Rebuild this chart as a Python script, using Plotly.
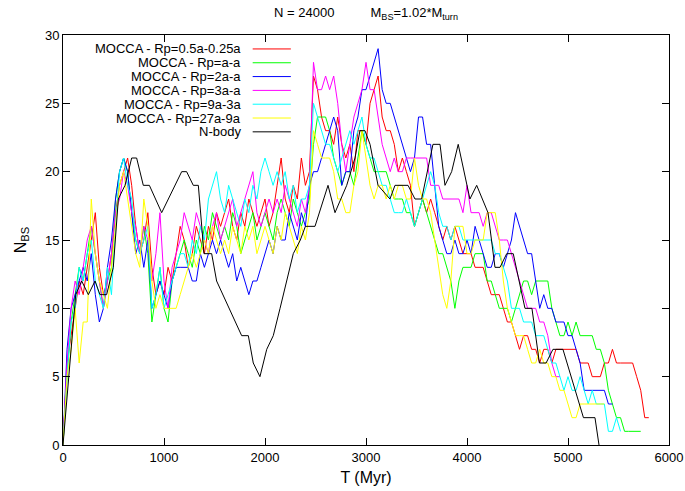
import numpy as np
import plotly.graph_objects as go

# MOCCA snapshots are written every DT Myr
DT = 40

mocca_names = [
    "MOCCA - Rp=0.5a-0.25a",
    "MOCCA - Rp=a-a",
    "MOCCA - Rp=2a-a",
    "MOCCA - Rp=3a-a",
    "MOCCA - Rp=9a-3a",
    "MOCCA - Rp=27a-9a",
]
mocca_colors = ["#ff0000", "#00ff00", "#0000ff", "#ff00ff", "#00ffff", "#ffff00"]

nbs_rp_05a_025a = [
    0, 6, 8, 10, 12, 11, 13, 15, 17, 13,
    11, 12, 14, 17, 19, 20, 21, 19, 16, 14,
    15, 17, 13, 11, 12, 11, 13, 12, 14, 16,
    15, 13, 14, 16, 15, 14, 16, 15, 17, 16,
    17, 18, 16, 15, 17, 16, 18, 17, 16, 17,
    18, 16, 17, 19, 21, 18, 17, 19, 18, 21,
    19, 20, 27, 26, 24, 23, 23, 22, 24, 22,
    21, 22, 20, 23, 23, 22, 25, 26, 27, 24,
    23, 23, 22, 20, 21, 20, 19, 16, 17, 18,
    17, 18, 17, 16, 15, 16, 15, 16, 15, 14,
    14, 14, 13, 13, 13, 12, 11, 11, 11, 10,
    9, 9, 8, 7, 8, 8, 7, 7, 6, 7,
    7, 6, 7, 7, 7, 7, 7, 7, 6, 6,
    6, 5, 5, 5, 6, 6, 7, 6, 6, 6,
    6, 6, 5, 4, 2, 2,
]
nbs_rp_a_a = [
    0, 5, 9, 11, 13, 12, 14, 16, 14, 12,
    10, 12, 13, 18, 20, 21, 20, 17, 15, 14,
    16, 14, 9, 11, 13, 10, 9, 12, 13, 14,
    15, 14, 13, 15, 14, 16, 15, 17, 16, 15,
    16, 15, 17, 16, 14, 15, 16, 17, 15, 16,
    17, 16, 15, 17, 18, 17, 16, 18, 17, 16,
    17, 18, 22, 24, 24, 24, 23, 21, 20, 19,
    20, 20, 19, 21, 23, 22, 21, 20, 20, 20,
    20, 19, 18, 18, 18, 17, 17, 16, 17, 18,
    17, 16, 15, 14, 14, 13, 12, 10, 12, 13,
    13, 13, 14, 14, 14, 12, 12, 11, 10, 10,
    10, 9, 10, 11, 12, 12, 11, 12, 12, 12,
    12, 10, 9, 8, 8, 9, 8, 9, 8, 8,
    8, 8, 7, 7, 6, 4, 3, 2, 2, 1,
    1, 1, 1, 1,
]
nbs_rp_2a_a = [
    0, 7, 10, 11, 12, 13, 12, 14, 11, 9,
    10, 13, 15, 18, 20, 21, 20, 17, 14, 15,
    13, 15, 10, 11, 12, 11, 10, 12, 13, 13,
    13, 13, 12, 12, 14, 13, 14, 15, 14, 15,
    14, 13, 14, 12, 13, 12, 11, 12, 12, 13,
    14, 15, 14, 16, 15, 15, 17, 16, 15, 17,
    16, 19, 20, 20, 21, 22, 23, 24, 23, 19,
    20, 20, 23, 24, 26, 26, 27, 28, 29, 26,
    25, 25, 24, 23, 22, 21, 20, 21, 24, 24,
    22, 22, 19, 16, 15, 14, 14, 15, 14, 14,
    15, 14, 16, 15, 14, 13, 13, 14, 14, 13,
    14, 15, 17, 16, 15, 14, 14, 12, 10, 11,
    10, 10, 9, 9, 9, 8, 8, 7, 6, 4,
    4, 4, 4, 4, 4, 3, 3,
]
nbs_rp_3a_a = [
    0, 6, 10, 12, 11, 13, 15, 16, 14, 12,
    10, 12, 14, 17, 18, 20, 19, 17, 16, 14,
    16, 15, 12, 14, 17, 12, 10, 13, 14, 15,
    17, 16, 15, 17, 16, 15, 14, 16, 17, 15,
    16, 17, 18, 16, 17, 18, 19, 20, 17, 16,
    17, 18, 17, 18, 17, 19, 18, 17, 16, 18,
    17, 19, 28, 26, 26, 27, 26, 27, 25, 22,
    20, 22, 24, 25, 26, 28, 26, 26, 24, 22,
    21, 20, 21, 20, 20, 21, 21, 21, 21, 21,
    21, 19, 19, 19, 18, 18, 18, 18, 18, 17,
    19, 17, 17, 17, 16, 17, 17, 16, 15, 15,
    15, 14, 13, 12, 11, 10, 10, 10, 9, 9,
    8, 6, 5, 5,
]
nbs_rp_9a_3a = [
    0, 5, 9, 10, 13, 12, 14, 15, 12, 11,
    10, 13, 11, 16, 20, 21, 19, 18, 15, 14,
    15, 16, 10, 11, 13, 10, 11, 12, 13, 14,
    14, 13, 15, 14, 16, 15, 18, 19, 20, 18,
    17, 19, 18, 17, 16, 18, 17, 19, 18, 20,
    21, 20, 19, 20, 19, 20, 18, 19, 17, 18,
    18, 19, 25, 24, 23, 22, 22, 21, 20, 21,
    22, 23, 22, 23, 24, 22, 21, 21, 20, 19,
    19, 18, 17, 17, 17, 18, 17, 16, 17, 18,
    19, 20, 19, 17, 16, 16, 15, 16, 16, 15,
    15, 15, 15, 15, 15, 15, 15, 14, 14, 13,
    12, 10, 10, 10, 9, 9, 9, 8, 8, 8,
    7, 6, 6, 5, 4, 5, 4, 4, 5, 4,
    3, 4, 3, 3, 3, 1, 1, 2, 1,
]
nbs_rp_27a_9a = [
    0, 5, 7, 10, 6, 9, 9, 18, 14, 12,
    11, 10, 13, 16, 19, 20, 18, 16, 14, 13,
    18, 16, 12, 10, 11, 10, 10, 10, 10, 11,
    12, 13, 14, 13, 14, 15, 14, 16, 15, 14,
    15, 14, 16, 15, 14, 16, 15, 16, 14, 15,
    16, 15, 14, 16, 15, 17, 16, 15, 14, 16,
    15, 17, 23, 22, 21, 21, 21, 20, 18, 18,
    17, 17, 19, 20, 23, 21, 19, 18, 19, 19,
    18, 19, 18, 19, 19, 18, 18, 21, 19, 18,
    18, 17, 15, 13, 11, 10, 12, 16, 16, 16,
    14, 14, 15, 15, 15, 17, 17, 17, 15, 12,
    10, 9, 8, 8, 8, 7, 6, 6, 7, 6,
    6, 5, 5, 4, 4, 3, 2, 2, 3, 3,
    3, 3, 3, 3, 3,
]
mocca_series = [nbs_rp_05a_025a, nbs_rp_a_a, nbs_rp_2a_a,
                 nbs_rp_3a_a, nbs_rp_9a_3a, nbs_rp_27a_9a]

# direct N-body run
nbody_t = [0, 126, 185, 251, 317, 366, 432, 498, 548, 614,
           680, 729, 795, 855, 977, 1175, 1224, 1290, 1340, 1396,
           1472, 1521, 1769, 1835, 1884, 1950, 2017, 2082, 2149, 2215,
           2280, 2350, 2400, 2495, 2624, 2693, 2809, 2891, 2940, 2990,
           3040, 3119, 3237, 3287, 3416, 3485, 3551, 3663, 3733, 3782,
           3848, 3913, 4029, 4096, 4208, 4277, 4327, 4393, 4458, 4574,
           4643, 4717, 4783, 4851, 4950, 5153, 5267, 5307]
nbody_n = [0, 11, 12, 11, 12, 11, 11, 13, 18, 19,
           21, 21, 19, 19, 17, 20, 20, 19, 19, 14,
           14, 12, 8, 8, 6, 5, 7, 8, 10, 12,
           14, 15, 16, 16, 19, 17, 19, 21, 23, 23,
           22, 19, 18, 19, 19, 18, 18, 22, 22, 19,
           20, 22, 18, 19, 17, 13, 13, 14, 14, 10,
           10, 6, 6, 7, 7, 2, 2, 0]

x_ticks = [0, 1000, 2000, 3000, 4000, 5000, 6000]
y_ticks = [0, 5, 10, 15, 20, 25, 30]

FONT = "Liberation Sans, Arial, sans-serif"

fig = go.Figure()
for name, vals, col in zip(mocca_names, mocca_series, mocca_colors):
    t = np.arange(len(vals)) * DT
    fig.add_trace(go.Scatter(x=t, y=vals, mode="lines", name=name,
                             line=dict(color=col, width=1), showlegend=False))
fig.add_trace(go.Scatter(x=nbody_t, y=nbody_n, mode="lines", name="N-body",
                         line=dict(color="black", width=1), showlegend=False))

# gnuplot-style key: right-aligned text with the line sample to its right
key_names = mocca_names + ["N-body"]
key_colors = mocca_colors + ["black"]
row0, row_step = 0.966, 0.0337
annotations = []
shapes = []
for k, (name, col) in enumerate(zip(key_names, key_colors)):
    yk = row0 - k * row_step
    annotations.append(dict(x=0.297, y=yk, xref="paper", yref="paper",
                            text=name, showarrow=False, xanchor="right",
                            yanchor="middle", font=dict(size=13, color="black", family=FONT)))
    shapes.append(dict(type="line", xref="paper", yref="paper",
                       x0=0.313, x1=0.376, y0=yk, y1=yk,
                       line=dict(color=col, width=1)))

fig.update_layout(
    width=685, height=491,
    margin=dict(l=63, r=16, t=35, b=46, autoexpand=False),
    paper_bgcolor="white", plot_bgcolor="white",
    font=dict(family=FONT, size=13, color="black"),
    title=dict(text="N = 24000" + "&nbsp;" * 10 + "M<sub>BS</sub>=1.02*M<sub>turn</sub>",
               x=0.5, xref="paper", xanchor="center", y=0.975, yanchor="middle",
               font=dict(size=13, family=FONT)),
    annotations=annotations,
    shapes=shapes,
    xaxis=dict(range=[0, 6000], tickvals=x_ticks, ticks="inside", ticklen=7,
               showline=True, linecolor="black", linewidth=1, mirror="ticks",
               showgrid=False, zeroline=False, tickcolor="black", automargin=False,
               title=dict(text="T (Myr)", standoff=8)),
    yaxis=dict(range=[0, 30], tickvals=y_ticks, ticks="inside", ticklen=7,
               showline=True, linecolor="black", linewidth=1, mirror="ticks",
               showgrid=False, zeroline=False, tickcolor="black", automargin=False,
               title=dict(text="N<sub>BS</sub>", standoff=14)),
)

fig.write_html("out.html")
